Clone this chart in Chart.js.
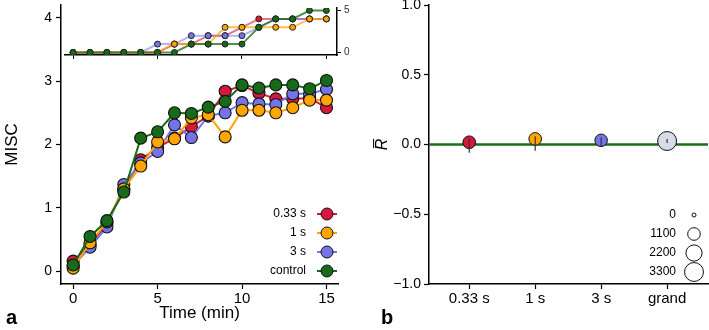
<!DOCTYPE html>
<html>
<head>
<meta charset="utf-8">
<script src="https://cdn.jsdelivr.net/npm/chart.js@4.4.1/dist/chart.umd.min.js"></script>
<style>
  body { margin: 0; background: #fff; width: 709px; height: 330px; position: relative; overflow: hidden;
         font-family: "Liberation Sans", Arial, sans-serif; }
  canvas { position: absolute; top: 0; }
  .tag { position: absolute; font-weight: bold; font-size: 20px; line-height: 20px; color: #000; }
</style>
</head>
<body>
<canvas id="miscChart" style="left:0" width="372" height="330"></canvas>
<canvas id="insetChart" style="left:0" width="372" height="62"></canvas>
<canvas id="rChart" style="left:370px" width="339" height="330"></canvas>
<div class="tag" style="left:6px;top:307px">a</div>
<div class="tag" style="left:381px;top:307px">b</div>
<script>
// ---- data ----
const minutes = [0, 1, 2, 3, 4, 5, 6, 7, 8, 9, 10, 11, 12, 13, 14, 15];
const seriesNames = ['0.33 s', '1 s', '3 s', 'control'];
const seriesColors = ['#d8173d', '#ffa500', '#7474e8', '#176a17'];
const seriesLines = ['rgba(216,23,61,0.6)', 'rgba(255,165,0,0.7)', 'rgba(116,116,232,0.55)', 'rgba(23,106,23,0.75)'];

const misc033 = [0.16, 0.42, 0.75, 1.30, 1.76, 1.95, 2.10, 2.28, 2.45, 2.84, 2.93, 2.81, 2.72, 2.72, 2.73, 2.58];
const misc1 = [0.05, 0.45, 0.78, 1.30, 1.66, 2.04, 2.09, 2.42, 2.47, 2.12, 2.54, 2.54, 2.50, 2.58, 2.70, 2.70];
const misc3 = [0.09, 0.38, 0.70, 1.37, 1.71, 1.89, 2.31, 2.11, 2.45, 2.50, 2.66, 2.64, 2.63, 2.80, 2.80, 2.87];
const miscCtrl = [0.10, 0.55, 0.80, 1.25, 2.10, 2.20, 2.50, 2.49, 2.59, 2.68, 2.94, 2.89, 2.94, 2.94, 2.88, 3.01];

const inset033 = [0, 0, 0, 0, 0, 0, 1, 1, 2, 2, 3, 4, 4, 4, 4, 4];
const inset1 = [0, 0, 0, 0, 0, 0, 1, 1, 1, 3, 3, 3, 3, 3, 4, 4];
const inset3 = [0, 0, 0, 0, 0, 1, 1, 2, 2, 2, 2, 3, 4, 4, 4, 4];
const insetCtrl = [0, 0, 0, 0, 0, 0, 0, 1, 1, 1, 1, 3, 4, 4, 5, 5];

const xTicks = [0, 5, 10, 15];
const yTicks = [0, 1, 2, 3, 4];
const insetTicks = [0, 5];

const rCategories = ['0.33 s', '1 s', '3 s', 'grand'];
const rMean = [0.016, 0.040, 0.030, 0.025];
const rLow = [-0.060, -0.045, -0.010, 0.010];
const rHigh = [0.045, 0.060, 0.050, 0.040];
const rCount = [1120, 1100, 1080, 3300];
const rColors = ['#d8173d', '#ffa500', '#7474e8', '#d9dbe6'];
const rTicks = [-1, -0.5, 0, 0.5, 1];
const sizeLevels = [0, 1100, 2200, 3300];

const FONT = '"Liberation Sans", Arial, sans-serif';
const sizeOf = n => 2 + 0.13 * Math.sqrt(n);
const setTicks = vals => s => { s.ticks = vals.map(v => ({ value: v })); };
const noPad = s => { s.paddingTop = 0; s.paddingBottom = 0; s.paddingLeft = 0; s.paddingRight = 0; };
const axisStyle = {
  grid: { drawOnChartArea: false, color: '#000', tickLength: 5, tickWidth: 1.2 },
  border: { color: '#000', width: 1.5 },
};

// ---- panel a ----
const mainSets = [misc033, misc1, misc3, miscCtrl];
const drawOrder = [4, 2, 3, 1]; // control on top

const seriesLegend = {
  id: 'seriesLegend',
  afterDraw(chart) {
    const { ctx, chartArea: a } = chart;
    ctx.save();
    ctx.font = '12px ' + FONT;
    ctx.textAlign = 'right';
    ctx.textBaseline = 'middle';
    seriesNames.forEach((name, i) => {
      const y = a.bottom - 70 + i * 19;
      ctx.fillStyle = '#000';
      ctx.fillText(name, a.right - 32, y);
      ctx.strokeStyle = seriesColors[i];
      ctx.lineWidth = 2;
      ctx.beginPath(); ctx.moveTo(a.right - 21, y); ctx.lineTo(a.right - 1, y); ctx.stroke();
      ctx.beginPath(); ctx.arc(a.right - 11, y, 6, 0, Math.PI * 2);
      ctx.fillStyle = seriesColors[i]; ctx.fill();
      ctx.strokeStyle = '#111'; ctx.lineWidth = 1; ctx.stroke();
    });
    ctx.restore();
  }
};

new Chart(document.getElementById('miscChart'), {
  type: 'line',
  data: {
    datasets: mainSets.map((vals, i) => ({
      label: seriesNames[i],
      data: minutes.map((t, j) => ({ x: t, y: vals[j] })),
      borderColor: seriesColors[i],
      backgroundColor: seriesColors[i],
      pointBorderColor: '#111',
      pointBorderWidth: 1.1,
      pointRadius: 6,
      borderWidth: 2,
      order: drawOrder[i],
    }))
  },
  options: {
    responsive: false, animation: false, devicePixelRatio: 1,
    layout: { autoPadding: false, padding: { left: 0, top: 5, right: 34, bottom: 0 } },
    plugins: { legend: { display: false }, tooltip: { enabled: false } },
    scales: {
      x: {
        type: 'linear', min: -0.72, max: 15.68, ...axisStyle,
        afterBuildTicks: setTicks(xTicks),
        afterFit: s => { s.height = 46; noPad(s); },
        ticks: { color: '#000', font: { size: 15, family: FONT }, padding: 1, maxRotation: 0 },
        title: { display: true, text: 'Time (min)', color: '#000', font: { size: 17, family: FONT }, padding: { top: 0, bottom: 6 } },
      },
      y: {
        type: 'linear', min: -0.2, max: 4.2, ...axisStyle,
        afterBuildTicks: setTicks(yTicks),
        afterFit: s => { s.width = 61; noPad(s); },
        ticks: { color: '#000', font: { size: 14, family: FONT }, padding: 4 },
        title: { display: true, text: 'MISC', color: '#000', font: { size: 17, family: FONT }, padding: { top: 2, bottom: 2 } },
      }
    }
  },
  plugins: [seriesLegend]
});

// ---- inset ----
const insetSets = [inset033, inset1, inset3, insetCtrl];
new Chart(document.getElementById('insetChart'), {
  type: 'line',
  data: {
    datasets: insetSets.map((vals, i) => ({
      label: seriesNames[i],
      data: minutes.map((t, j) => ({ x: t, y: vals[j] })),
      borderColor: seriesLines[i],
      backgroundColor: seriesColors[i],
      pointBorderColor: '#222',
      pointBorderWidth: 1,
      pointRadius: 3,
      borderWidth: 2,
      order: drawOrder[i],
    }))
  },
  options: {
    responsive: false, animation: false, devicePixelRatio: 1,
    layout: { autoPadding: false, padding: { left: 65, top: 8, right: 0, bottom: 0 } },
    plugins: { legend: { display: false }, tooltip: { enabled: false } },
    scales: {
      x: {
        type: 'linear', min: -0.48, max: 15.63,
        grid: { drawOnChartArea: false, color: '#000', tickLength: 4, tickWidth: 1 },
        border: { color: '#000', width: 1.5 },
        afterBuildTicks: setTicks(xTicks),
        afterFit: s => { s.height = 7; noPad(s); },
        ticks: { display: false },
      },
      y: {
        type: 'linear', position: 'right', min: -0.3, max: 5.3,
        grid: { drawOnChartArea: false, color: '#000', tickLength: 4, tickWidth: 1 },
        border: { color: '#000', width: 1.5 },
        afterBuildTicks: setTicks(insetTicks),
        afterFit: s => { s.width = 35; noPad(s); },
        ticks: { color: '#333', font: { size: 10, family: FONT }, padding: 3 },
      }
    }
  }
});

// ---- panel b ----
const zeroLine = {
  id: 'zeroLine',
  beforeDatasetsDraw(chart) {
    const { ctx, chartArea: a, scales: { y } } = chart;
    const py = y.getPixelForValue(0);
    ctx.save();
    ctx.strokeStyle = '#1a6e1a';
    ctx.lineWidth = 2.6;
    ctx.beginPath(); ctx.moveTo(a.left, py); ctx.lineTo(a.right, py); ctx.stroke();
    ctx.restore();
  }
};
const errorBars = {
  id: 'errorBars',
  afterDatasetsDraw(chart) {
    const { ctx, scales: { x, y } } = chart;
    ctx.save();
    ctx.strokeStyle = '#333';
    ctx.lineWidth = 1.2;
    rLow.forEach((lo, i) => {
      const px = x.getPixelForValue(i + 1);
      ctx.beginPath(); ctx.moveTo(px, y.getPixelForValue(lo)); ctx.lineTo(px, y.getPixelForValue(rHigh[i])); ctx.stroke();
    });
    ctx.restore();
  }
};
const sizeLegend = {
  id: 'sizeLegend',
  afterDraw(chart) {
    const { ctx, chartArea: a } = chart;
    ctx.save();
    ctx.font = '12px ' + FONT;
    ctx.textAlign = 'right';
    ctx.textBaseline = 'middle';
    sizeLevels.forEach((n, i) => {
      const y = a.bottom - 69 + i * 19;
      ctx.fillStyle = '#000';
      ctx.fillText(String(n), a.right - 32, y);
      ctx.beginPath(); ctx.arc(a.right - 14, y, sizeOf(n), 0, Math.PI * 2);
      ctx.fillStyle = '#fff'; ctx.fill();
      ctx.strokeStyle = '#111'; ctx.lineWidth = 1; ctx.stroke();
    });
    ctx.restore();
  }
};

new Chart(document.getElementById('rChart'), {
  type: 'bubble',
  data: {
    datasets: [{
      data: rMean.map((m, i) => ({ x: i + 1, y: m, r: sizeOf(rCount[i]) })),
      backgroundColor: rColors,
      borderColor: '#111',
      borderWidth: 1,
      hoverRadius: 0,
    }]
  },
  options: {
    responsive: false, animation: false, devicePixelRatio: 1,
    layout: { autoPadding: false, padding: { left: 0, top: 5, right: 1, bottom: 0 } },
    plugins: { legend: { display: false }, tooltip: { enabled: false } },
    scales: {
      x: {
        type: 'linear', min: 0.39, max: 4.62, ...axisStyle,
        afterBuildTicks: setTicks([1, 2, 3, 4]),
        afterFit: s => { s.height = 46; noPad(s); },
        ticks: { color: '#000', font: { size: 15, family: FONT }, padding: 1, maxRotation: 0,
                 callback: v => rCategories[v - 1] },
      },
      y: {
        type: 'linear', min: -1, max: 1, ...axisStyle,
        afterBuildTicks: setTicks(rTicks),
        afterFit: s => { s.width = 59; noPad(s); },
        ticks: { color: '#000', font: { size: 14, family: FONT }, padding: 3,
                 callback: v => v.toFixed(1).replace('-', '\u2212') },
        title: { display: true, text: 'R\u0305', color: '#000', font: { size: 16, family: FONT, style: 'italic' }, padding: { top: 3, bottom: 2 } },
      }
    }
  },
  plugins: [zeroLine, errorBars, sizeLegend]
});
</script>
</body>
</html>
